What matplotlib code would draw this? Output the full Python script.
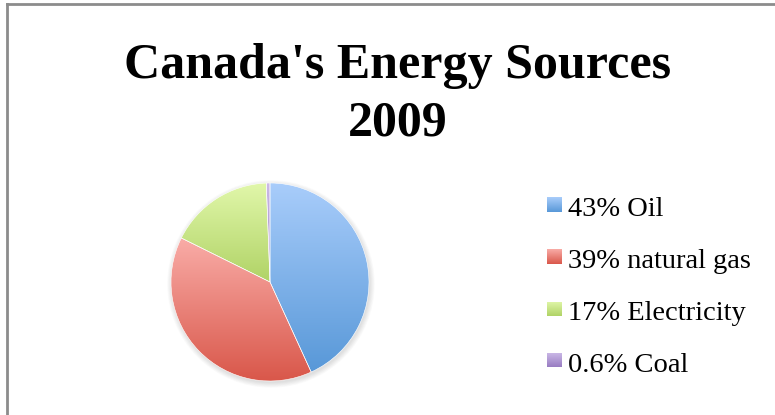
import numpy as np
import matplotlib.pyplot as plt
from matplotlib.colors import LinearSegmentedColormap
from matplotlib.patches import Circle

# energy mix, percent
sources = ['Oil', 'natural gas', 'Electricity', 'Coal']
shares = [43, 39, 17, 0.6]
labels = ['43% Oil', '39% natural gas', '17% Electricity', '0.6% Coal']

# light (top) / dark (bottom) gradient ends for each slice
tops = ['#a9cdfb', '#f9aca7', '#e1f7aa', '#cdbbe8']
bottoms = ['#5898d8', '#d9574a', '#b0d366', '#987cc2']

W, H = 775, 415
fig = plt.figure(figsize=(W / 100, H / 100), dpi=100)
fig.patch.set_facecolor('white')

serif = ['Liberation Serif', 'DejaVu Serif']

# two-line title, placed line by line
fig.text(398 / W, 1 - 78 / H, "Canada's Energy Sources", ha='center', va='baseline',
         fontsize=36, fontweight='bold', family=serif)
fig.text(398 / W, 1 - 135 / H, "2009", ha='center', va='baseline',
         fontsize=36, fontweight='bold', family=serif)

# chart frame (only top and left edges show)
fig.add_artist(plt.Line2D([7 / W, 1], [1 - 4.5 / H, 1 - 4.5 / H], color='#8c8c8c', lw=2))
fig.add_artist(plt.Line2D([7 / W, 7 / W], [0, 1 - 4.5 / H], color='#8c8c8c', lw=2))

# pie axes: radius 99 px, centre at (270, 282)
cx, cy, r = 270, 282, 99
side = 2 * r * 1.2
ax = fig.add_axes([(cx - side / 2) / W, 1 - (cy + side / 2) / H, side / W, side / H])

# soft shadow under the pie
for k in range(8):
    ax.add_patch(Circle((0.01, -0.02), 1 + 0.007 * k, color='black', alpha=0.014, lw=0, zorder=0))

wedges, _ = ax.pie(shares, startangle=90, counterclock=False, radius=1,
                   wedgeprops=dict(lw=0))

grad = np.linspace(0, 1, 256).reshape(-1, 1)
for w, t, b in zip(wedges, tops, bottoms):
    w.set_facecolor('none')
    ext = w.get_path().get_extents()
    cmap = LinearSegmentedColormap.from_list('g', [t, b])
    im = ax.imshow(grad, cmap=cmap, aspect='auto', origin='upper',
                   extent=[ext.x0, ext.x1, ext.y0, ext.y1], zorder=2)
    im.set_clip_path(w)

# thin light seams between slices
for w in wedges:
    w.set_edgecolor('white')
    w.set_linewidth(0.4)
    w.set_zorder(3)

lim = 1.2
ax.set_xlim(-lim, lim)
ax.set_ylim(-lim, lim)
ax.set_aspect('equal')
ax.axis('off')

# legend
sq = 15
ys = [204.5, 256.5, 309, 360]
for lab, t, b, y in zip(labels, tops, bottoms, ys):
    lax = fig.add_axes([547 / W, 1 - (y + sq / 2) / H, sq / W, sq / H])
    lax.imshow(grad, cmap=LinearSegmentedColormap.from_list('g', [t, b]),
               aspect='auto', extent=[0, 1, 0, 1])
    lax.axis('off')
    fig.text(568 / W, 1 - (y + 11.5) / H, lab, ha='left', va='baseline',
             fontsize=20.5, family=serif)

fig.savefig('out.png', dpi=100)
